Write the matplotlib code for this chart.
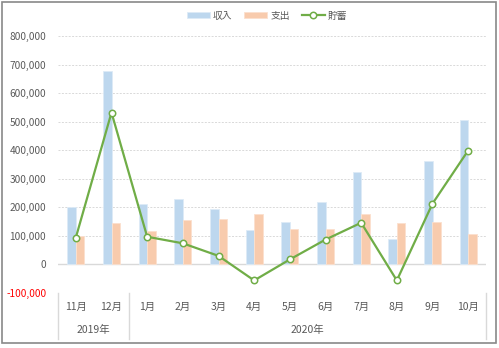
import matplotlib
matplotlib.use("Agg")
import matplotlib.pyplot as plt
from matplotlib.patches import Rectangle
from matplotlib.lines import Line2D
from matplotlib.ticker import FuncFormatter
import numpy as np

plt.rcParams['font.family'] = ['Noto Sans CJK JP', 'DejaVu Sans']

months = ['11月', '12月', '1月', '2月', '3月', '4月', '5月', '6月', '7月', '8月', '9月', '10月']
years = ['2019年', '2020年']
year_spans = [(0, 1), (2, 11)]
income = [200000, 678000, 213000, 230000, 195000, 119000, 147000, 217000, 325000, 90000, 361000, 505000]
expense = [100000, 144000, 116000, 157000, 160000, 175000, 125000, 125000, 178000, 144000, 147000, 105000]
savings = [94000, 532000, 97000, 74000, 30000, -56000, 17500, 87000, 146000, -56000, 213000, 399000]

W, H = 499, 348
fig = plt.figure(figsize=(W/100, H/100), dpi=100)
ax = fig.add_axes([58/W, (H-293)/H, (486-58)/W, (293-36)/H])

x = np.arange(len(months))
bw = 0.24
c_inc = '#BDD7EE'
c_exp = '#F8CBAD'
c_sav = '#70AD47'
b1 = ax.bar(x - bw/2, income, bw, color=c_inc, edgecolor='#DDEBF7', linewidth=0.6, label='収入', zorder=2)
b2 = ax.bar(x + bw/2, expense, bw, color=c_exp, edgecolor='#FBE0CE', linewidth=0.6, label='支出', zorder=2)
l1, = ax.plot(x, savings, color=c_sav, lw=1.6, marker='o', markersize=4.6, markerfacecolor='white',
              markeredgecolor=c_sav, markeredgewidth=1.1, label='貯蓄', zorder=3)

ax.set_xlim(-0.5, len(months) - 0.5)
ax.set_ylim(-100000, 800000)
ax.set_yticks(np.arange(-100000, 800001, 100000))
ax.yaxis.set_major_formatter(FuncFormatter(lambda v, p: f'{int(v):,}'))
ax.tick_params(axis='y', length=0, labelsize=7.3, labelcolor='#595959', pad=8.5)
for lab in ax.get_yticklabels():
    if lab.get_text().startswith('-') or lab.get_text().startswith('\u2212'):
        lab.set_color('#FF0000')
ax.set_xticks([])
for s in ax.spines.values():
    s.set_visible(False)
ax.grid(axis='y', color='#D9D9D9', linestyle=(0, (2, 1.5)), linewidth=0.7, zorder=0)
ax.axhline(0, color='#D9D9D9', lw=1.0, zorder=1)

# category axis
trans = ax.get_xaxis_transform()
for i, m in enumerate(months):
    ax.text(i, -0.055, m, transform=trans, ha='center', va='center', fontsize=7.5, color='#595959')
for yr, (a, b) in zip(years, year_spans):
    ax.text((a + b) / 2, -0.145, yr, transform=trans, ha='center', va='center', fontsize=7.5, color='#595959')
for xs in [-0.5, 1.5, len(months) - 0.5]:
    ax.add_line(Line2D([xs, xs], [0, -0.178], transform=trans, color='#D9D9D9', lw=1.0, clip_on=False))

# legend
fig.legend([b1, b2, l1], ['収入', '支出', '貯蓄'], loc='center', bbox_to_anchor=(0.535, 1 - 15.7/H), ncol=3,
           frameon=False, fontsize=7, labelcolor='#595959', handlelength=2.4, handleheight=0.6,
           columnspacing=1.2, handletextpad=0.3)

fig.add_artist(Rectangle((2/W, (H-343)/H), 494/W, 341/H, transform=fig.transFigure,
                         fill=False, edgecolor='#898989', lw=1.2))

fig.savefig('out.png', dpi=100, facecolor='white')
